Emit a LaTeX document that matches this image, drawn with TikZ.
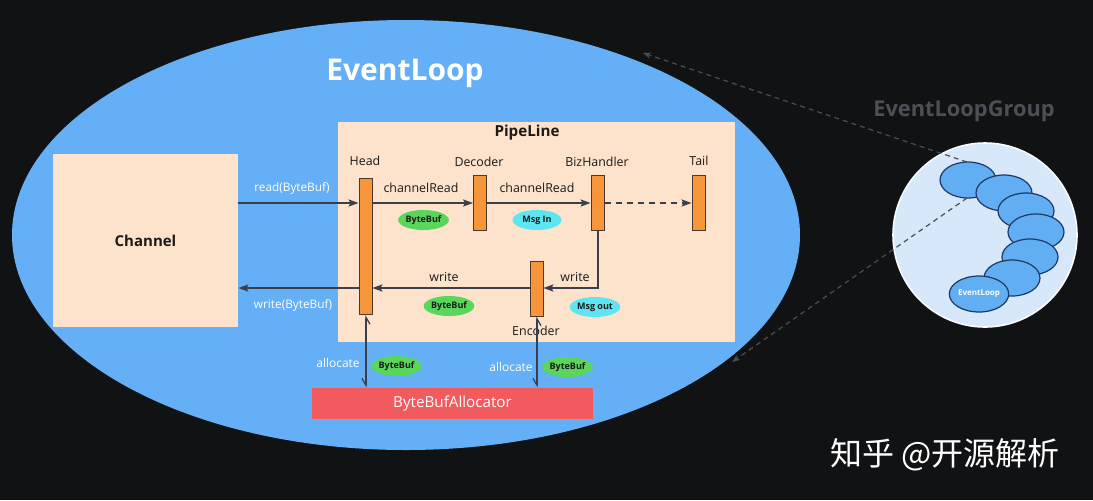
\documentclass[tikz,border=0pt]{standalone}
\usepackage{fontspec}
\setmainfont{Open Sans}
\newfontfamily\cjk{Noto Sans CJK SC}
\usetikzlibrary{arrows.meta,shapes.geometric}
\definecolor{bg}{HTML}{111214}
\definecolor{ellblue}{HTML}{64AFF6}
\definecolor{peach}{HTML}{FDE3CB}
\definecolor{barorange}{HTML}{F7953A}
\definecolor{baredge}{HTML}{4A3A2C}
\definecolor{badgegreen}{HTML}{5AD65A}
\definecolor{badgecyan}{HTML}{5DE6F2}
\definecolor{allocred}{HTML}{F25B5E}
\definecolor{grouplight}{HTML}{D6E8FA}
\definecolor{loopblue}{HTML}{62AEF2}
\definecolor{loopedge}{HTML}{1E3968}
\definecolor{lineclr}{HTML}{3A3F4A}
\definecolor{dashgrey}{HTML}{4A4D52}
\definecolor{txtdark}{HTML}{1A1A1A}
\definecolor{grouptxt}{HTML}{4C4F55}
\tikzset{
  panel/.style={fill=peach, draw=none, inner sep=0pt},
  bar/.style={fill=barorange, draw=baredge, line width=0.5pt, minimum width=6.5pt, inner sep=0pt},
  badge/.style={ellipse, draw=none, inner sep=0pt, minimum width=24.5pt, minimum height=10pt, text=txtdark, font=\fontsize{4.5}{5}\selectfont\bfseries},
  lbl/.style={text=txtdark, inner sep=0pt, font=\fontsize{6.2}{7}\selectfont},
  wlbl/.style={text=white, inner sep=0pt, font=\fontsize{5.9}{7}\selectfont},
  conn/.style={draw=lineclr, line width=0.6pt, -{Stealth[length=5pt,width=3.6pt,inset=1pt]}},
  alloc/.style={draw=lineclr, line width=0.6pt, {Straight Barb[harpoon,swap,length=3.5pt,width=4pt]}-{Straight Barb[harpoon,swap,length=3.5pt,width=4pt]}},
  zoomline/.style={draw=dashgrey, line width=0.6pt, dash pattern=on 2.5pt off 2pt, -{Stealth[length=4pt,width=3pt]}},
  loop/.style={ellipse, fill=loopblue, draw=loopedge, line width=0.6pt, minimum width=28pt, minimum height=18pt, inner sep=0pt}
}
\begin{document}
\begin{tikzpicture}[x=0.5pt,y=-0.5pt]
\fill[bg] (0,0) rectangle (1093,500);
\useasboundingbox (0,0) rectangle (1093,500);

% big EventLoop ellipse
\node[ellipse, fill=ellblue, draw=none, minimum width=394pt, minimum height=215pt, inner sep=0pt] (eloop) at (406,235) {};
\node[text=white, font=\fontsize{15}{18}\selectfont\bfseries, inner sep=0pt] (eltitle) at (405,73) {EventLoop};

% Channel and PipeLine panels
\node[panel, minimum width=92.5pt, minimum height=86.5pt, font=\fontsize{7.5}{9}\selectfont\bfseries, text=txtdark] (channel) at (145.5,240.5) {Channel};
\node[panel, minimum width=198.5pt, minimum height=110pt] (pipe) at (536.5,232) {};
\node[text=txtdark, font=\fontsize{7.6}{9}\selectfont\bfseries, inner sep=0pt] (plabel) at (527,133) {PipeLine};

% handlers
\node[bar, minimum height=68pt] (head) at (365.5,246.5) {};
\node[bar, minimum height=27.5pt] (dec) at (480,202.5) {};
\node[bar, minimum height=27.5pt] (biz) at (597.5,202.5) {};
\node[bar, minimum height=27.5pt] (tail) at (698.5,202.5) {};
\node[bar, minimum height=27.5pt] (enc) at (536.5,288.5) {};

\node[lbl] (headl) at (365,161) {Head};
\node[lbl] (decl) at (479,162) {Decoder};
\node[lbl] (bizl) at (597,162) {BizHandler};
\node[lbl] (taill) at (699,161) {Tail};
\node[lbl] (encl) at (536,331) {Encoder};

% y levels
\coordinate (ry) at (0,203);
\coordinate (wy) at (0,288);
\coordinate (bend) at (598,288);

% read path
\draw[conn] (channel.east |- ry) -- (head.west |- ry);
\draw[conn] (head.east |- ry) -- (dec.west |- ry);
\draw[conn] (dec.east |- ry) -- (biz.west |- ry);
\draw[conn, dash pattern=on 3pt off 2.5pt] (biz.east |- ry) -- (tail.west |- ry);
% write path
\draw[conn] (biz.south -| bend) -- (bend) -- (enc.east |- wy);
\draw[conn] (enc.west |- wy) -- (head.east |- wy);
\draw[conn] (head.west |- wy) -- (channel.east |- wy);

\node[wlbl] (readl) at (292,188) {read(ByteBuf)};
\node[wlbl] (writel) at (293,305) {write(ByteBuf)};
\node[lbl] (cr1) at (421,188) {channelRead};
\node[lbl] (cr2) at (537,188) {channelRead};
\node[lbl] (w1) at (444,277) {write};
\node[lbl] (w2) at (575,277) {write};

% badges
\node[badge, fill=badgegreen] (bb1) at (423.5,220) {ByteBuf};
\node[badge, fill=badgecyan] (min) at (537,220) {Msg In};
\node[badge, fill=badgegreen] (bb2) at (449,306) {ByteBuf};
\node[badge, fill=badgecyan] (mout) at (595,307) {Msg out};

% allocator
\node[fill=allocred, draw=none, minimum width=140.5pt, minimum height=15.5pt, inner sep=0pt, text=white, font=\fontsize{7.6}{9}\selectfont] (allocr) at (452.5,403.5) {ByteBufAllocator};
\coordinate (ax1) at (366,0);
\coordinate (ax2) at (537,0);
\draw[alloc] (head.south -| ax1) -- (allocr.north -| ax1);
\draw[alloc] (enc.south -| ax2) -- (allocr.north -| ax2);
\node[wlbl, font=\fontsize{6}{7}\selectfont] (al1) at (338,363) {allocate};
\node[wlbl, font=\fontsize{6}{7}\selectfont] (al2) at (511,367) {allocate};
\node[badge, fill=badgegreen] (bb3) at (396.5,366) {ByteBuf};
\node[badge, fill=badgegreen] (bb4) at (567.5,367) {ByteBuf};

% EventLoopGroup
\node[text=grouptxt, font=\fontsize{10.9}{13}\selectfont\bfseries, inner sep=0pt] (glabel) at (964,111) {EventLoopGroup};
\node[circle, fill=grouplight, draw=white!85!grouplight, line width=0.8pt, minimum size=92pt, inner sep=0pt] (group) at (985,235) {};
\node[loop] (l1) at (968,180) {};
\node[loop] (l2) at (1004,193) {};
\node[loop] (l3) at (1026,211) {};
\node[loop] (l4) at (1036,232) {};
\node[loop] (l5) at (1030,257) {};
\node[loop] (l6) at (1012,278) {};
\node[loop, text=white, font=\fontsize{4}{5}\selectfont\bfseries] (l7) at (979,294) {EventLoop};

% zoom lines
\coordinate (za1) at (967,162);
\coordinate (zb1) at (643,53);
\coordinate (za2) at (967,198);
\coordinate (zb2) at (732,362);
\draw[zoomline] (za1) -- (zb1);
\draw[zoomline] (za2) -- (zb2);

% watermark
\node[text=white, font=\cjk\fontsize{16}{19}\selectfont, inner sep=0pt] (wm) at (945,455) {知乎 @开源解析};
\end{tikzpicture}
\end{document}
